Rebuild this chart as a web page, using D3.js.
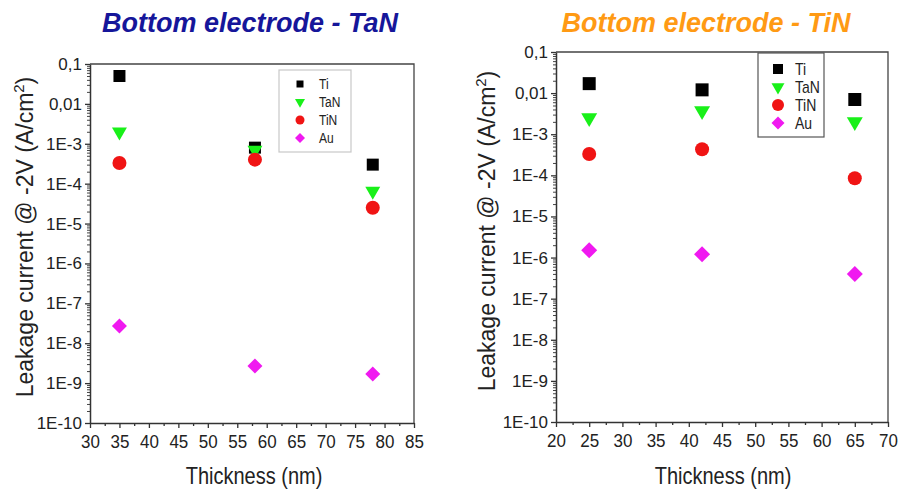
<!DOCTYPE html>
<html>
<head>
<meta charset="utf-8">
<script src="https://cdn.jsdelivr.net/npm/d3@7"></script>
<style>
  body { margin: 0; background: #fff; }
  text { font-family: "Liberation Sans", Arial, sans-serif; }
</style>
</head>
<body>
<div id="chart"></div>
<script>
// Leakage current @ -2V vs thickness, two bottom electrodes
const seriesNames = ["Ti", "TaN", "TiN", "Au"];

// Bottom electrode - TaN
const tanThickness = [35, 58, 78];
const tanTi  = [5e-2, 8e-4, 3e-4];
const tanTaN = [2e-3, 7e-4, 6.5e-5];
const tanTiN = [3.3e-4, 4e-4, 2.5e-5];
const tanAu  = [2.7e-8, 2.7e-9, 1.7e-9];

// Bottom electrode - TiN
const tinThickness = [25, 42, 65];
const tinTi  = [1.7e-2, 1.2e-2, 7e-3];
const tinTaN = [2.5e-3, 3.7e-3, 2e-3];
const tinTiN = [3.3e-4, 4.3e-4, 8.5e-5];
const tinAu  = [1.5e-6, 1.2e-6, 4e-7];

const yTickValues = [1e-10, 1e-9, 1e-8, 1e-7, 1e-6, 1e-5, 1e-4, 1e-3, 1e-2, 1e-1];
const yTickLabels = ["1E-10", "1E-9", "1E-8", "1E-7", "1E-6", "1E-5", "1E-4", "1E-3", "0,01", "0,1"];
const tanXTicks = [30, 35, 40, 45, 50, 55, 60, 65, 70, 75, 80, 85];
const tinXTicks = [20, 25, 30, 35, 40, 45, 50, 55, 60, 65, 70];

const colors = { Ti: "#000000", TaN: "#19f019", TiN: "#f01414", Au: "#f019f0" };

const svg = d3.select("#chart").append("svg")
  .attr("width", 899)
  .attr("height", 490);

svg.append("rect").attr("width", 899).attr("height", 490).attr("fill", "#fff");

// marker path for a series, s = rough size in px
function marker(name, s) {
  if (name === "Ti") return d3.symbol(d3.symbolSquare, s * s)();
  if (name === "TiN") return d3.symbol(d3.symbolCircle, Math.PI * s * s / 4)();
  if (name === "TaN") return d3.symbol(d3.symbolTriangle, s * s * 0.43)();
  return d3.symbol(d3.symbolSquare, s * s / 2)();
}
function markerRotate(name) {
  if (name === "TaN") return " rotate(180)";
  if (name === "Au") return " rotate(45)";
  return "";
}

function drawPanel(opt) {
  const f = opt.frame;
  const x = d3.scaleLinear().domain(opt.xDomain).range([f.left, f.right]);
  const y = d3.scaleLog().domain([1e-10, 0.1]).range([f.bottom, f.top]);

  const g = svg.append("g");

  // title
  g.append("text")
    .attr("x", opt.titleX)
    .attr("y", 32)
    .attr("text-anchor", "middle")
    .attr("font-size", 27)
    .attr("font-weight", "bold")
    .attr("font-style", "italic")
    .attr("fill", opt.titleColor)
    .text(opt.title);

  // frame top + right
  g.append("path")
    .attr("d", `M${f.left},${f.top}H${f.right}V${f.bottom}`)
    .attr("fill", "none")
    .attr("stroke", "#444")
    .attr("stroke-width", 1.3);

  // y axis, major + minor
  const minors = y.ticks().filter(d => yTickValues.indexOf(d) < 0);
  g.append("g")
    .attr("transform", `translate(${f.left},0)`)
    .call(d3.axisLeft(y).tickValues(minors).tickSize(3).tickSizeOuter(0).tickFormat(""))
    .call(a => a.select(".domain").remove())
    .call(a => a.selectAll("line").attr("stroke", "#444"));
  const yAxis = g.append("g")
    .attr("transform", `translate(${f.left},0)`)
    .call(d3.axisLeft(y).tickValues(yTickValues).tickSize(5).tickSizeOuter(0).tickPadding(3)
      .tickFormat((d, i) => yTickLabels[i]));
  yAxis.select(".domain").attr("stroke", "#333").attr("stroke-width", 1.5);
  yAxis.selectAll("line").attr("stroke", "#333").attr("stroke-width", 1.3);
  yAxis.selectAll("text")
    .attr("font-size", 17)
    .attr("fill", "#222")
    .style("font-family", "'Liberation Sans', Arial, sans-serif");

  // x axis, major + minor
  const xMinors = opt.xTicks.slice(0, -1).map(d => d + 2.5);
  g.append("g")
    .attr("transform", `translate(0,${f.bottom})`)
    .call(d3.axisBottom(x).tickValues(xMinors).tickSize(3).tickSizeOuter(0).tickFormat(""))
    .call(a => a.select(".domain").remove())
    .call(a => a.selectAll("line").attr("stroke", "#333").attr("stroke-width", 1.3));
  const xAxis = g.append("g")
    .attr("transform", `translate(0,${f.bottom})`)
    .call(d3.axisBottom(x).tickValues(opt.xTicks).tickSize(5).tickSizeOuter(0));
  xAxis.select(".domain").attr("stroke", "#333").attr("stroke-width", 1.5);
  xAxis.selectAll("line").attr("stroke", "#333").attr("stroke-width", 1.3);
  xAxis.selectAll("text")
    .attr("y", 0)
    .attr("dy", null)
    .attr("transform", "translate(0,25) scale(1,1.12)")
    .attr("font-size", 17)
    .attr("fill", "#222")
    .style("font-family", "'Liberation Sans', Arial, sans-serif");

  // axis titles
  const yl = g.append("text")
    .attr("transform", `translate(${opt.yLabelX},${opt.yLabelY}) rotate(-90)`)
    .attr("text-anchor", "middle")
    .attr("font-size", 23)
    .attr("fill", "#222");
  yl.append("tspan").text("Leakage current @ -2V (A/cm");
  yl.append("tspan").attr("dy", -9).attr("font-size", 15).text("2");
  yl.append("tspan").attr("dy", 9).text(")");

  g.append("text")
    .attr("transform", `translate(${opt.xTitleX},484) scale(1,1.2)`)
    .attr("text-anchor", "middle")
    .attr("font-size", 20)
    .attr("fill", "#222")
    .text("Thickness (nm)");

  // data points
  seriesNames.forEach(name => {
    g.append("g").selectAll("path")
      .data(opt.series[name].map((v, i) => ({ t: opt.thickness[i], v: v })))
      .join("path")
      .attr("d", marker(name, opt.markerSize[name]))
      .attr("transform", d => `translate(${x(d.t)},${y(d.v)})` + markerRotate(name))
      .attr("fill", colors[name]);
  });

  // legend
  const L = opt.legend;
  g.append("rect")
    .attr("x", L.x).attr("y", L.y).attr("width", L.w).attr("height", L.h)
    .attr("fill", "#fff")
    .attr("stroke", L.stroke)
    .attr("stroke-width", 1.2);
  seriesNames.forEach((name, i) => {
    const cy = L.y + L.first + i * L.step;
    g.append("path")
      .attr("d", marker(name, L.markerSize[name]))
      .attr("transform", `translate(${L.x + L.markerDx},${cy})` + markerRotate(name))
      .attr("fill", colors[name]);
    g.append("text")
      .attr("transform", `translate(${L.x + L.textDx},${cy}) scale(1,1.15)`)
      .attr("dy", "0.36em")
      .attr("font-size", L.fontSize)
      .attr("fill", "#222")
      .text(name);
  });
}

drawPanel({
  title: "Bottom electrode - TaN",
  titleColor: "#16169a",
  titleX: 250,
  frame: { left: 90, right: 414, top: 64, bottom: 423 },
  xDomain: [30, 85],
  xTicks: tanXTicks,
  thickness: tanThickness,
  series: { Ti: tanTi, TaN: tanTaN, TiN: tanTiN, Au: tanAu },
  markerSize: { Ti: 12, TaN: 15, TiN: 14, Au: 15 },
  yLabelX: 33,
  yLabelY: 237,
  xTitleX: 254,
  legend: {
    x: 279, y: 70, w: 72, h: 82, stroke: "#c8c8c8",
    first: 14, step: 18, markerDx: 21, textDx: 40, fontSize: 12,
    markerSize: { Ti: 7, TaN: 10, TiN: 9, Au: 10 }
  }
});

drawPanel({
  title: "Bottom electrode - TiN",
  titleColor: "#ff9a14",
  titleX: 706,
  frame: { left: 556, right: 888, top: 52, bottom: 422 },
  xDomain: [20, 70],
  xTicks: tinXTicks,
  thickness: tinThickness,
  series: { Ti: tinTi, TaN: tinTaN, TiN: tinTiN, Au: tinAu },
  markerSize: { Ti: 13, TaN: 16, TiN: 14, Au: 16 },
  yLabelX: 495,
  yLabelY: 231,
  xTitleX: 723,
  legend: {
    x: 758, y: 53, w: 66, h: 84, stroke: "#555",
    first: 16, step: 18, markerDx: 20, textDx: 37, fontSize: 14,
    markerSize: { Ti: 10, TaN: 13, TiN: 12, Au: 13 }
  }
});
</script>
</body>
</html>
